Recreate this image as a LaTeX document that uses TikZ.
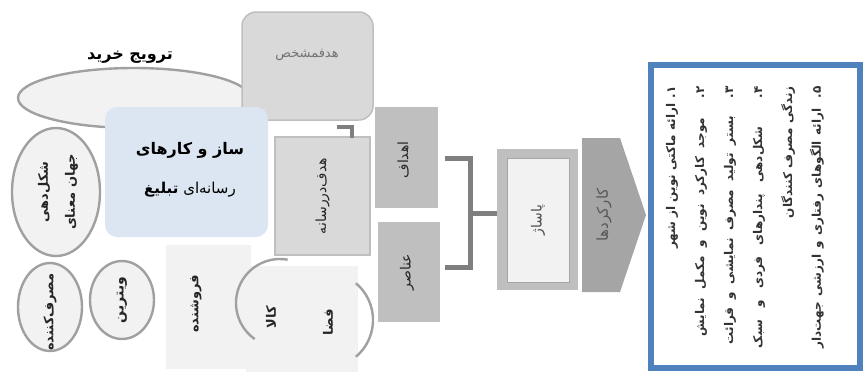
\documentclass[tikz,border=0pt]{standalone}
\usepackage{fontspec}
\TeXXeTstate=1
\newfontfamily\fa[Script=Arabic]{DejaVu Sans}
\usetikzlibrary{shapes.geometric,calc}
\definecolor{paleg}{HTML}{F2F2F2}
\definecolor{ringg}{HTML}{A0A0A0}
\definecolor{lightbox}{HTML}{D9D9D9}
\definecolor{boxedge}{HTML}{BFBFBF}
\definecolor{midbox}{HTML}{BFBFBF}
\definecolor{mediablue}{HTML}{DCE6F2}
\definecolor{bracketg}{HTML}{7F7F7F}
\definecolor{arrowg}{HTML}{A5A5A5}
\definecolor{frameblue}{HTML}{4F81BD}
\definecolor{inkg}{HTML}{262626}
% a line stretched to a fixed length
\newcommand\jline[2]{\hbox to #1{\spaceskip=0.3em plus 1fil\relax #2}}
\begin{document}
\begin{tikzpicture}[x=1pt,y=1pt,
  oval/.style={ellipse, draw=ringg, line width=2.4pt, fill=paleg, inner sep=0pt},
  vlabel/.style={rotate=90, font=\fa\bfseries\fontsize{13}{15}\selectfont, text=inkg, align=center},
  vplain/.style={rotate=90, font=\fa\fontsize{14}{16}\selectfont, text=inkg, align=center},
  listline/.style={rotate=90, anchor=east, font=\fa\bfseries\fontsize{12}{14}\selectfont, text=black!80, inner sep=0pt},
  bracketline/.style={draw=bracketg, line width=5pt},
  ringarc/.style={draw=ringg, line width=2.4pt},
]
\useasboundingbox[fill=white] (0,0) rectangle (865,-372);

% purchase promotion
\node[oval, minimum width=232pt, minimum height=60pt] (promo) at (134,-98) {};
\node[font=\fa\bfseries\fontsize{16}{18}\selectfont] (promolabel) at (130,-57) {\beginR ترویج خرید\endR};

% specific goal
\node[draw=boxedge, fill=lightbox, line width=1.5pt, rounded corners=14pt,
      minimum width=131pt, minimum height=108pt] (goal) at (307.5,-66) {};
\node[font=\fa\fontsize{13}{15}\selectfont, text=black!55] (goaltxt) at (307,-55) {\beginR هدفمشخص\endR};

% advertising media mechanisms
\node[fill=mediablue, rounded corners=12pt, minimum width=163pt, minimum height=130pt] (media) at (186.5,-172) {};
\node[font=\fa\bfseries\fontsize{16}{18}\selectfont] (media1) at (190,-150) {\beginR ساز و کارهای\endR};
\node[font=\fa\fontsize{15}{17}\selectfont] (media2) at (190,-190) {\beginR رسانه‌ای \textbf{تبلیغ}\endR};

% consumer-side ovals
\node[oval, minimum width=88pt, minimum height=128pt] (world) at (56,-192) {};
\node[vlabel] (worldtxt) at (58,-192) {\beginR شکل‌دهی\endR\\[12pt]\beginR جهان معنای\endR};
\node[oval, minimum width=64pt, minimum height=88pt] (consumer) at (50,-307) {};
\node[vlabel] (consumertxt) at (50,-312) {\beginR مصرف‌کننده\endR};
\node[oval, minimum width=64pt, minimum height=78pt] (vitrine) at (122,-300) {};
\node[vlabel, font=\fa\bfseries\fontsize{14}{16}\selectfont] (vitrinetxt) at (vitrine) {\beginR ویترین\endR};

% seller and goods/space panels
\node[fill=paleg, minimum width=85pt, minimum height=124pt, inner sep=0pt] (seller) at (208,-307) {};
\node[vlabel] (sellertxt) at (196,-304) {\beginR فروشنده\endR};
\node[fill=paleg, minimum width=112pt, minimum height=106pt, inner sep=0pt] (goods) at (302,-319) {};
\draw[ringarc] (280,-303) ++(80:44) arc[start angle=80, end angle=235, radius=44];
\draw[ringarc] (325,-320) ++(50:48) arc[start angle=50, end angle=-50, radius=48];
\node[vlabel] (goodstxt) at (271,-317) {\beginR کالا\endR};
\node[vlabel] (spacetxt) at (328,-322) {\beginR فضا\endR};

% goal in media
\node[draw=boxedge, fill=lightbox, line width=1.2pt, minimum width=95pt, minimum height=118pt] (inmedia) at (322.5,-196) {};
\node[vplain] (inmediatxt) at (inmedia) {\beginR هدف‌در‌رسانه\endR};
\coordinate (g1) at (337,-127);
\coordinate (g2) at (352,-138);
\draw[draw=bracketg, line width=3.5pt] (g1) -| (g2);

% aims and elements
\node[fill=midbox, minimum width=63pt, minimum height=101pt] (aims) at (406.5,-157.5) {};
\node[vplain] (aimstxt) at (403,-160) {\beginR اهداف\endR};
\node[fill=midbox, minimum width=62pt, minimum height=100pt] (elements) at (409,-272) {};
\node[vplain] (elementstxt) at (407,-272) {\beginR عناصر\endR};

% bracket joining aims and elements to the passage
\coordinate (b1) at (445,-158);
\coordinate (b2) at (445,-267);
\coordinate (bj) at (470,-213);

% passage
\node[fill=boxedge, minimum width=81pt, minimum height=141pt, inner sep=0pt] (passage) at (537.5,-219.5) {};
\node[fill=paleg, draw=black!35, line width=0.6pt, minimum width=62pt, minimum height=124pt, inner sep=0pt] (passagein) at (538,-220) {};
\node[vplain, text=black!70] (passagetxt) at (passagein) {\beginR پاساژ\endR};

\draw[bracketline] (b1) -| (bj) |- (b2);
\draw[bracketline] (bj) -- (bj -| passage.west);

% functions arrow
\coordinate (f1) at (582,-138);
\coordinate (f2) at (620,-138);
\coordinate (f3) at (646,-215);
\coordinate (f4) at (620,-292);
\coordinate (f5) at (582,-292);
\fill[arrowg] (f1) -- (f2) -- (f3) -- (f4) -- (f5) -- cycle;
\node[vplain, font=\fa\fontsize{15}{17}\selectfont, text=black!65] (functxt) at (604,-215) {\beginR کارکردها\endR};

% list of functions
\node[draw=frameblue, line width=6pt, fill=white, minimum width=209pt, minimum height=303pt] (list) at (755.5,-216.5) {};
\node[listline] (l1) at (672,-86) {\beginR ۱. ارائه ماکتی نوین از شهر\endR};
\node[listline] (l2) at (701,-86) {\jline{250pt}{\beginR ۲. موجد کارکرد نوین و مکمل نمایش\endR}};
\node[listline] (l3) at (730,-86) {\jline{258pt}{\beginR ۳. بستر تولید مصرف نمایشی و قرائت\endR}};
\node[listline] (l4) at (759,-86) {\jline{262pt}{\beginR ۴. شکل‌دهی پندارهای فردی و سبک\endR}};
\node[listline] (l5) at (788,-86) {\beginR زندگی مصرف کنندگان\endR};
\node[listline] (l6) at (817,-86) {\jline{262pt}{\beginR ۵. ارائه الگوهای رفتاری و ارزشی جهت‌دار\endR}};
\end{tikzpicture}
\end{document}
